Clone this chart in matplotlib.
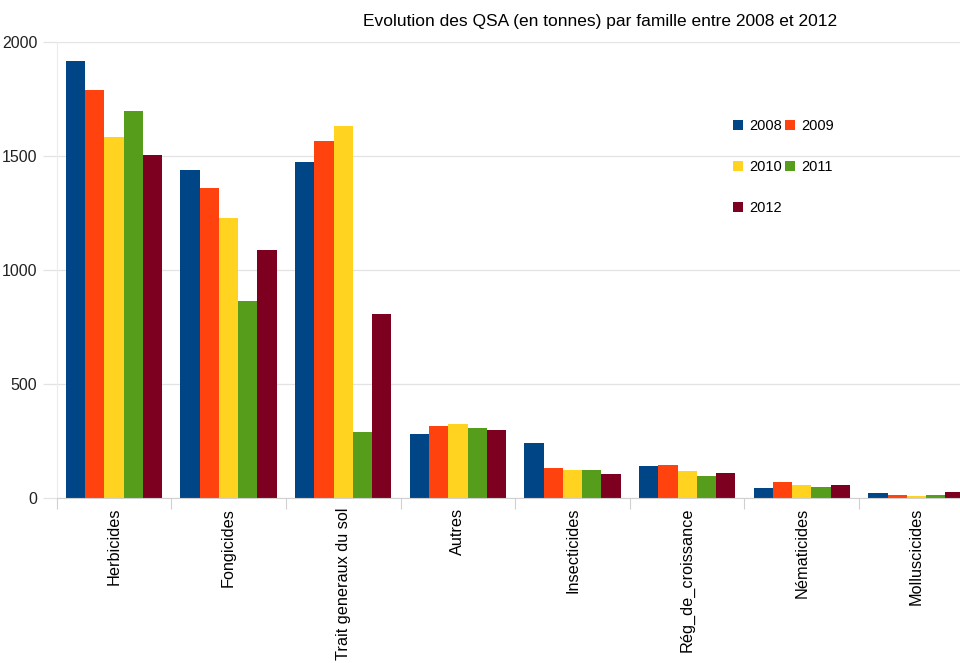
import numpy as np
import matplotlib
matplotlib.use("Agg")
import matplotlib.pyplot as plt

plt.rcParams["font.family"] = ["Liberation Sans", "DejaVu Sans"]

# ----- data -----
categories = ["Herbicides", "Fongicides", "Trait generaux du sol", "Autres",
              "Insecticides", "Rég_de_croissance", "Nématicides", "Molluscicides"]
years = ["2008", "2009", "2010", "2011", "2012"]
q2008 = [1917, 1439, 1474, 281, 241, 140, 44, 22]
q2009 = [1790, 1360, 1566, 316, 132, 145, 70, 13]
q2010 = [1583, 1228, 1632, 325, 123, 118, 57, 10]
q2011 = [1697, 864, 289, 305, 123, 96, 48, 12]
q2012 = [1504, 1088, 807, 298, 105, 110, 57, 26]
series = [q2008, q2009, q2010, q2011, q2012]
colors = ["#004586", "#ff420e", "#ffd320", "#579d1c", "#7e0021"]

fig = plt.figure(figsize=(9.6, 6.63), dpi=100)
ax = fig.add_axes([0.059, 0.249, 0.941, 0.688])

x = np.arange(len(categories))
w = 0.168
bars = []
for i, (vals, c) in enumerate(zip(series, colors)):
    b = ax.bar(x + (i - 2) * w, vals, width=w, color=c, label=years[i], zorder=2)
    bars.append(b)

ax.set_yticks([0, 500, 1000, 1500, 2000])
ax.yaxis.grid(True, color="#e3e3e3", lw=0.9, zorder=0)
ax.tick_params(axis="y", length=10, width=0.9, labelsize=11.5, pad=4,
               colors="#222222")
ax.tick_params(axis="y", color="#e3e3e3")

# category labels + separators
ax.set_xticks(x)
ax.set_xticklabels(categories, rotation=90, fontsize=11.7)
ax.tick_params(axis="x", length=0, pad=7)
ax.set_xticks(np.arange(-0.5, 8.5, 1), minor=True)
ax.tick_params(axis="x", which="minor", length=8, color="#d0d0d0", width=0.8)

# limits last: set_xticks would widen the view otherwise
ax.set_ylim(0, 2000)
ax.set_xlim(-0.5, 7.38)

for s in ["top", "right"]:
    ax.spines[s].set_visible(False)
ax.spines["left"].set_color("#ececec")
ax.spines["left"].set_linewidth(0.8)
ax.spines["bottom"].set_color("#d0d0d0")
ax.spines["bottom"].set_linewidth(0.8)

fig.text(0.625, 0.967, "Evolution des QSA (en tonnes) par famille entre 2008 et 2012",
         ha="center", va="center", fontsize=12.5)

# legend laid out row-wise: 2008 2009 / 2010 2011 / 2012
order = [0, 2, 4, 1, 3]
fig.legend([bars[i] for i in order], [years[i] for i in order],
           ncol=2, loc="upper left", bbox_to_anchor=(0.756, 0.831),
           frameon=False, fontsize=10.5, handlelength=0.7, handleheight=0.7,
           handletextpad=0.4, columnspacing=0.2, labelspacing=1.85,
           borderpad=0)

fig.savefig("out.png", dpi=100)
